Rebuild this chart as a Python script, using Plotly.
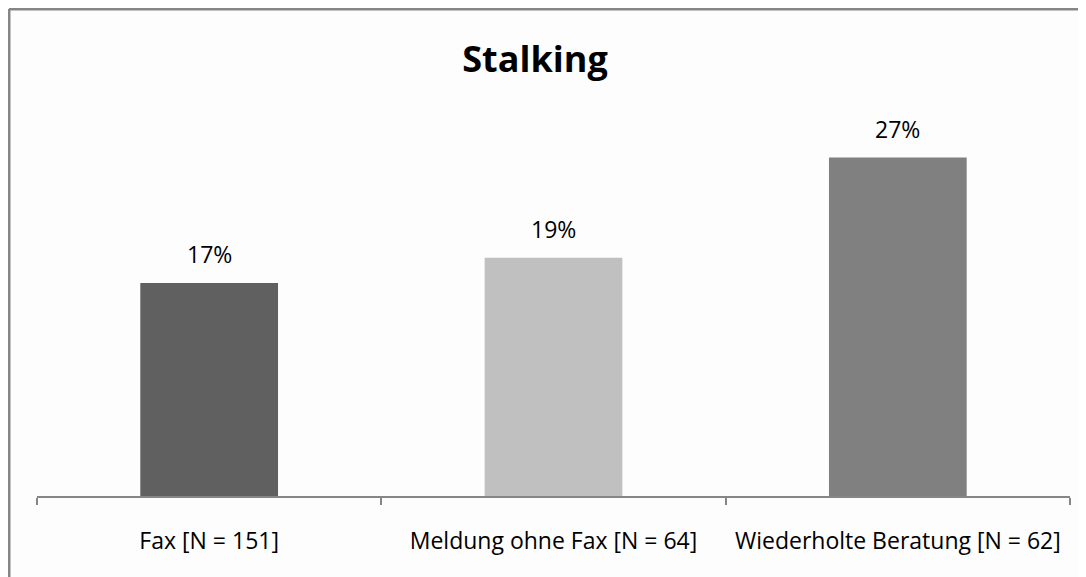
import plotly.graph_objects as go

# data
categories = ["Fax [N = 151]", "Meldung ohne Fax [N = 64]", "Wiederholte Beratung [N = 62]"]
values = [0.17, 0.19, 0.27]
labels = ["17%", "19%", "27%"]
bar_colors = ["#606060", "#c0c0c0", "#808080"]

FONT = "Open Sans, sans-serif"
grey = "#868686"

# die Seite hat 8px Rand, daher 1078x569
W, H = 1078, 569
ml, mr, mt, mb = 29, 16, 112, 81
pw, ph = W - ml - mr, H - mt - mb

fig = go.Figure()

fig.add_trace(go.Bar(
    x=categories,
    y=values,
    marker=dict(color=bar_colors, line=dict(width=0)),
    hoverinfo="skip",
))

for cat, val, lab in zip(categories, values, labels):
    fig.add_annotation(
        x=cat, y=val, text=lab, showarrow=False,
        yanchor="bottom", yshift=11,
        font=dict(family=FONT, size=23, color="#000000"),
    )

# rahmen (nur links und oben sichtbar)
bx = (1 - ml) / pw
by = 1 + (mt - 1) / ph
fig.add_shape(type="line", xref="paper", yref="paper",
              x0=bx, x1=bx, y0=-0.3, y1=by,
              line=dict(color=grey, width=3))
fig.add_shape(type="line", xref="paper", yref="paper",
              x0=bx, x1=1.05, y0=by, y1=by,
              line=dict(color=grey, width=3))

fig.update_layout(
    width=W, height=H,
    margin=dict(l=ml, r=mr, t=mt, b=mb),
    paper_bgcolor="#fdfdfd",
    plot_bgcolor="#fdfdfd",
    bargap=0.6,
    showlegend=False,
    title=dict(
        text="<b>Stalking</b>",
        x=(535 - 8) / W, xanchor="center",
        y=1 - 51 / H, yanchor="middle",
        font=dict(family=FONT, size=36, color="#000000"),
    ),
    xaxis=dict(
        showline=True, linecolor=grey, linewidth=2,
        ticks="outside", tickson="boundaries", ticklen=7,
        tickcolor=grey, tickwidth=2,
        tickfont=dict(family=FONT, size=23, color="#000000"),
        ticklabelstandoff=23,
        showgrid=False, zeroline=False,
    ),
    yaxis=dict(
        range=[0, 0.3], visible=False, showgrid=False, zeroline=False,
    ),
)

fig.write_html("out.html")
